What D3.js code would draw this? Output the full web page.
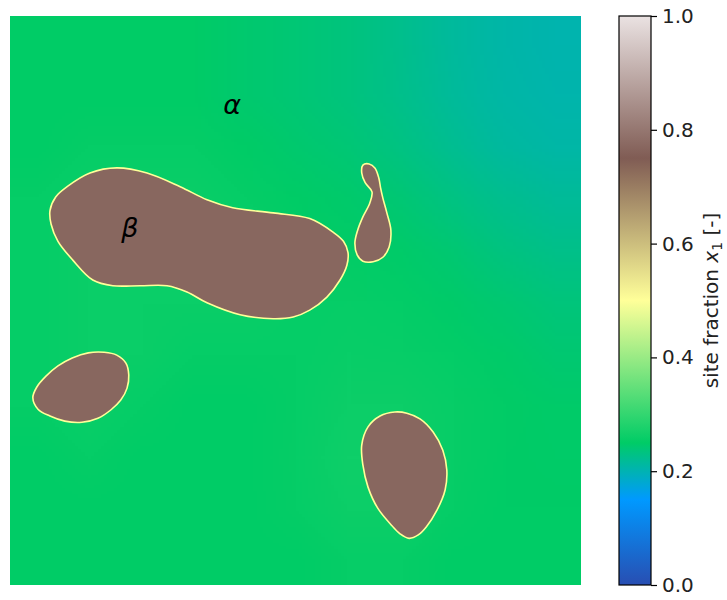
<!DOCTYPE html>
<html lang="en">
<head>
<meta charset="UTF-8">
<title>site fraction</title>
<script src="https://d3js.org/d3.v7.min.js"></script>
<style>
  body { margin: 0; background: #fff; }
  svg { font-family: "DejaVu Sans", sans-serif; }
</style>
</head>
<body>
<svg width="727" height="600"></svg>
<script>
// "terrain"-like colormap nodes, ends
const cmapStops = [0, 0.15, 0.25, 0.5, 0.75, 1.0];
const cmapColors = ["rgb(40,78,178)", "rgb(0,153,255)", "rgb(0,204,102)",
                    "rgb(255,255,153)", "rgb(128,92,84)", "rgb(234,226,226)"];

// background (alpha phase) site fraction, coarse grid, rows top->bottom, x 0..100
const gridX = [0, 10, 20, 30, 40, 50, 60, 70, 80, 90, 100];
const gridY = [0, 10, 20, 30, 40, 50, 60, 70, 80, 90, 100];
const alphaField = [
  [0.25, 0.25, 0.25, 0.25, 0.245, 0.24, 0.235, 0.225, 0.215, 0.207, 0.203],
  [0.25, 0.25, 0.25, 0.25, 0.245, 0.24, 0.235, 0.226, 0.216, 0.208, 0.204],
  [0.25, 0.255, 0.255, 0.255, 0.25, 0.245, 0.24, 0.232, 0.222, 0.213, 0.208],
  [0.255, 0.26, 0.26, 0.26, 0.255, 0.25, 0.247, 0.241, 0.232, 0.223, 0.217],
  [0.255, 0.26, 0.26, 0.26, 0.26, 0.255, 0.252, 0.248, 0.242, 0.233, 0.227],
  [0.255, 0.26, 0.26, 0.26, 0.26, 0.255, 0.256, 0.253, 0.248, 0.242, 0.236],
  [0.255, 0.26, 0.26, 0.255, 0.255, 0.255, 0.258, 0.257, 0.253, 0.248, 0.243],
  [0.255, 0.26, 0.255, 0.25, 0.25, 0.255, 0.262, 0.262, 0.257, 0.252, 0.248],
  [0.25, 0.255, 0.25, 0.25, 0.25, 0.256, 0.264, 0.264, 0.257, 0.251, 0.249],
  [0.25, 0.25, 0.25, 0.25, 0.25, 0.255, 0.262, 0.262, 0.255, 0.25, 0.25],
  [0.25, 0.25, 0.25, 0.25, 0.25, 0.25, 0.256, 0.256, 0.25, 0.25, 0.25]
];

// beta precipitates: outlines in grid units (x 0..100, y 0..100 from top)
const betaValue = 0.77;
const interfaceValue = 0.5;
const precipitates = [
  [[7.0,34.2],[8.0,31.8],[10.0,30.0],[14.0,27.6],[18.7,26.7],[24.0,27.6],[29.8,30.0],[34.5,32.3],
   [39.0,33.7],[46.1,34.6],[52.5,35.6],[56.6,38.0],[58.4,39.6],[59.2,41.6],[59.0,43.8],[57.8,46.4],
   [55.5,49.4],[52.5,51.7],[49.6,52.9],[46.1,53.2],[40.3,52.5],[34.5,50.4],[31.0,48.5],[27.5,47.4],
   [22.8,47.4],[18.0,47.4],[14.5,46.4],[11.0,42.9],[8.4,39.6],[7.2,36.6]],
  [[61.8,26.2],[61.6,27.6],[62.2,29.3],[63.4,30.9],[63.0,32.9],[61.8,35.3],[60.9,37.6],[60.4,39.9],
   [60.8,42.0],[61.8,43.1],[63.6,43.2],[65.3,42.4],[66.4,40.6],[66.7,37.6],[66.0,34.6],[65.3,32.0],
   [64.9,30.2],[64.6,28.5],[63.9,26.7],[62.9,26.0]],
  [[4.0,67.1],[4.7,65.2],[6.3,63.3],[8.4,61.5],[10.9,60.1],[13.7,59.2],[16.5,59.1],[18.7,59.6],
   [20.3,61.0],[20.8,63.1],[20.5,65.4],[19.4,67.5],[17.7,69.2],[15.4,70.7],[12.6,71.4],[9.6,71.2],
   [7.0,70.3],[4.9,69.1]],
  [[67.4,69.6],[64.8,70.3],[62.7,72.2],[61.6,75.4],[61.8,78.9],[62.7,82.8],[64.4,86.5],[66.9,89.6],
   [68.3,91.0],[69.9,91.8],[71.5,91.2],[72.9,89.8],[74.8,86.8],[76.2,83.3],[76.5,79.8],[75.8,76.3],
   [74.1,73.1],[71.8,70.8],[69.5,69.8]]
];

// phase labels
const phaseLabels = [
  {text: "\u03b1", x: 38.9, y: 15.6},
  {text: "\u03b2", x: 21.0, y: 37.2}
];

const cbTicks = [0, 0.2, 0.4, 0.6, 0.8, 1.0];

const svg = d3.select("svg");
const plot = {left: 10, top: 16, width: 571, height: 569};

const color = d3.scaleLinear().domain(cmapStops).range(cmapColors).interpolate(d3.interpolateRgb);
const x = d3.scaleLinear().domain([0, 100]).range([plot.left, plot.left + plot.width]);
const y = d3.scaleLinear().domain([0, 100]).range([plot.top, plot.top + plot.height]);

// background field as an image, smoothed by the browser like imshow interpolation
const cnv = document.createElement("canvas");
cnv.width = gridX.length; cnv.height = gridY.length;
const ctx = cnv.getContext("2d");
alphaField.forEach((row, j) => row.forEach((v, i) => {
  ctx.fillStyle = color(v);
  ctx.fillRect(i, j, 1, 1);
}));
svg.append("image")
  .attr("x", x(0)).attr("y", y(0))
  .attr("width", x(100) - x(0)).attr("height", y(100) - y(0))
  .attr("preserveAspectRatio", "none")
  .attr("href", cnv.toDataURL());

svg.append("clipPath").attr("id", "plotclip")
  .append("rect").attr("x", x(0)).attr("y", y(0))
  .attr("width", x(100) - x(0)).attr("height", y(100) - y(0));

const blob = d3.line().x(d => x(d[0])).y(d => y(d[1])).curve(d3.curveCatmullRomClosed.alpha(0.5));

svg.append("g").attr("clip-path", "url(#plotclip)")
  .selectAll("path")
  .data(precipitates)
  .join("path")
  .attr("d", blob)
  .attr("fill", color(betaValue))
  .attr("stroke", color(interfaceValue))
  .attr("stroke-width", 1.6);

svg.append("g").selectAll("text")
  .data(phaseLabels)
  .join("text")
  .attr("x", d => x(d.x))
  .attr("y", d => y(d.y))
  .attr("text-anchor", "middle")
  .attr("dominant-baseline", "central")
  .attr("font-size", 27)
  .attr("font-style", "italic")
  .attr("fill", "#000")
  .text(d => d.text);

// colorbar
const cb = {left: 619, width: 32, top: 16, height: 569};
const cy = d3.scaleLinear().domain([0, 1]).range([cb.top + cb.height, cb.top]);

const grad = svg.append("defs").append("linearGradient")
  .attr("id", "terrain").attr("x1", 0).attr("y1", 1).attr("x2", 0).attr("y2", 0);
grad.selectAll("stop")
  .data(cmapStops)
  .join("stop")
  .attr("offset", d => d)
  .attr("stop-color", d => color(d));

svg.append("rect")
  .attr("x", cb.left).attr("y", cb.top)
  .attr("width", cb.width).attr("height", cb.height)
  .attr("fill", "url(#terrain)")
  .attr("stroke", "#000").attr("stroke-width", 1.2);

const cbAxis = svg.append("g")
  .attr("transform", `translate(${cb.left + cb.width},0)`)
  .call(d3.axisRight(cy).tickValues(cbTicks).tickFormat(d3.format(".1f")).tickSize(6).tickPadding(5));
cbAxis.select(".domain").remove();
cbAxis.selectAll("text").attr("font-size", 20).attr("fill", "#222").attr("font-family", "DejaVu Sans, sans-serif");
cbAxis.selectAll("line").attr("stroke", "#000").attr("stroke-width", 1.2);

const lbl = svg.append("text")
  .attr("transform", `translate(718,${cb.top + cb.height / 2}) rotate(-90)`)
  .attr("text-anchor", "middle")
  .attr("font-size", 20)
  .attr("fill", "#222");
lbl.append("tspan").text("site fraction ");
lbl.append("tspan").attr("font-style", "italic").text("x");
lbl.append("tspan").attr("font-size", 14).attr("dy", 4).text("1");
lbl.append("tspan").attr("dy", -4).text(" [-]");
</script>
</body>
</html>
